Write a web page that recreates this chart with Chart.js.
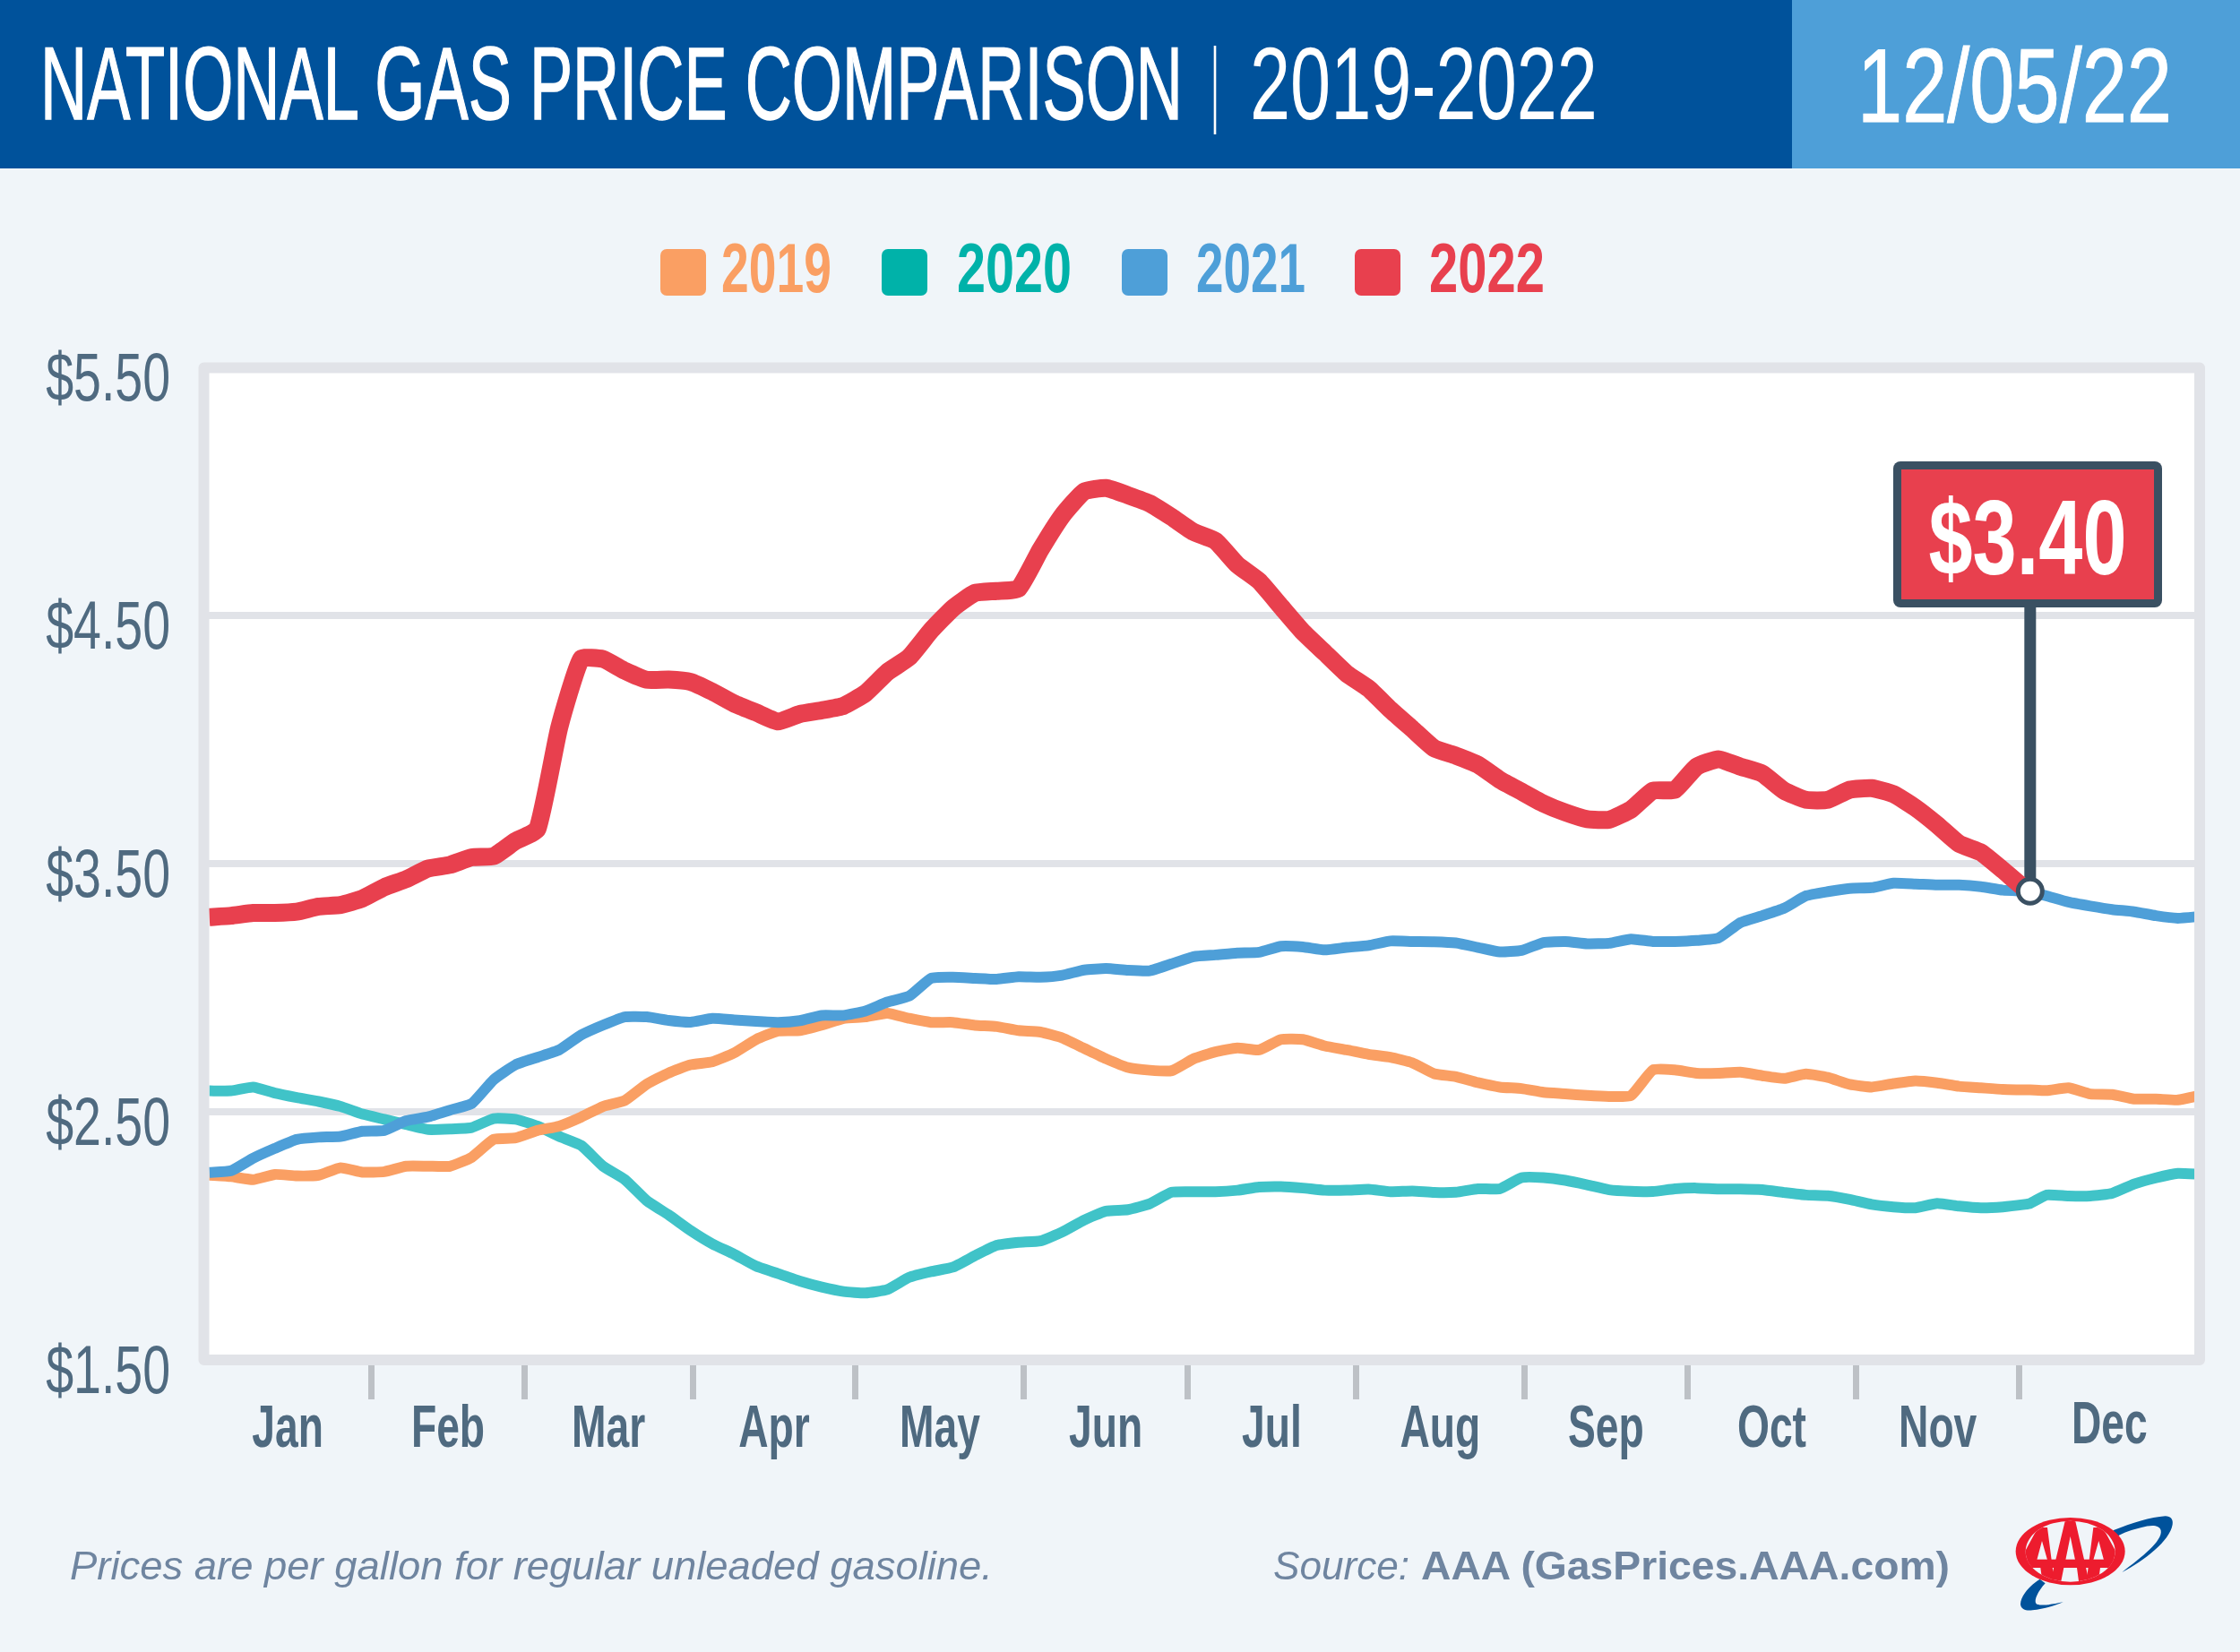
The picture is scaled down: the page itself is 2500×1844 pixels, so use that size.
<!DOCTYPE html>
<html><head><meta charset="utf-8">
<style>
html,body{margin:0;padding:0;background:#f0f5f9;width:2500px;height:1844px;overflow:hidden}
canvas,svg{position:absolute;left:0;top:0}
svg{pointer-events:none}
</style>
<script src="https://cdn.jsdelivr.net/npm/chart.js@4/dist/chart.umd.js"></script>
</head><body>
<canvas id="c" width="2500" height="1844"></canvas>
<svg id="o" width="2500" height="1844" xmlns="http://www.w3.org/2000/svg"></svg>
<script>
const days = [1,5,9,13,17,21,25,29,33,37,41,45,49,53,57,61,65,69,73,77,81,85,
 89,93,97,101,105,109,113,117,121,125,129,133,137,141,145,149,153,157,161,165,169,
 173,177,181,185,189,193,197,201,205,209,213,217,221,225,229,233,237,241,245,249,253,
 257,261,265,269,273,277,281,285,289,293,297,301,305,309,313,317,321,325,329,333,
 334,337,341,345,349,353,357,361,365];
const y2019 = [2.245,2.239,2.227,2.248,2.242,2.245,2.275,2.257,2.259,2.281,2.281,2.281,2.317,2.389,2.395,2.425,2.443,2.479,2.522,2.546,2.612,2.657,
 2.690,2.702,2.738,2.792,2.826,2.828,2.850,2.877,2.883,2.898,2.877,2.861,2.861,2.849,2.844,2.828,2.822,2.798,2.756,2.714,2.679,
 2.668,2.666,2.714,2.742,2.758,2.750,2.792,2.792,2.766,2.750,2.732,2.720,2.698,2.654,2.642,2.618,2.600,2.594,2.579,2.573,2.566,
 2.562,2.566,2.669,2.669,2.656,2.656,2.660,2.646,2.635,2.653,2.639,2.611,2.600,2.614,2.625,2.617,2.603,2.597,2.591,2.589,
 2.589,2.586,2.597,2.572,2.570,2.552,2.552,2.548,2.566];
const y2020 = [2.585,2.585,2.600,2.576,2.558,2.542,2.522,2.491,2.470,2.449,2.429,2.431,2.437,2.473,2.470,2.443,2.401,2.365,2.281,2.227,2.142,2.085,
 2.022,1.968,1.926,1.878,1.848,1.818,1.794,1.776,1.770,1.784,1.833,1.856,1.874,1.920,1.962,1.974,1.980,2.016,2.064,2.100,2.106,
 2.130,2.176,2.178,2.178,2.184,2.197,2.199,2.193,2.184,2.184,2.188,2.178,2.181,2.175,2.176,2.190,2.190,2.235,2.235,2.224,2.206,
 2.186,2.180,2.179,2.190,2.193,2.189,2.189,2.186,2.175,2.165,2.162,2.147,2.127,2.117,2.113,2.131,2.120,2.113,2.117,2.127,
 2.131,2.165,2.161,2.161,2.172,2.209,2.234,2.252,2.248];
const y2021 = [2.256,2.263,2.313,2.353,2.389,2.398,2.401,2.422,2.425,2.464,2.480,2.507,2.534,2.630,2.690,2.720,2.750,2.810,2.850,2.883,2.883,2.869,
 2.862,2.877,2.871,2.865,2.861,2.868,2.889,2.889,2.907,2.943,2.967,3.039,3.043,3.039,3.035,3.045,3.043,3.051,3.072,3.078,3.071,
 3.069,3.097,3.126,3.133,3.141,3.144,3.168,3.165,3.153,3.163,3.171,3.189,3.187,3.186,3.181,3.163,3.145,3.151,3.183,3.187,3.178,
 3.180,3.197,3.187,3.187,3.191,3.201,3.263,3.291,3.321,3.371,3.388,3.401,3.404,3.422,3.419,3.415,3.415,3.408,3.394,3.390,
 3.388,3.371,3.346,3.330,3.316,3.307,3.291,3.281,3.288];
const y2022 = [3.285,3.291,3.302,3.302,3.307,3.328,3.334,3.360,3.406,3.438,3.481,3.496,3.526,3.531,3.592,3.640,4.050,4.326,4.326,4.278,4.242,4.243,
 4.234,4.194,4.146,4.110,4.074,4.104,4.119,4.137,4.188,4.273,4.333,4.441,4.531,4.592,4.600,4.610,4.766,4.904,5.001,5.015,4.986,
 4.953,4.898,4.838,4.802,4.706,4.640,4.537,4.435,4.351,4.267,4.207,4.122,4.044,3.966,3.936,3.900,3.839,3.791,3.743,3.707,3.680,
 3.678,3.719,3.795,3.798,3.892,3.922,3.892,3.864,3.795,3.758,3.758,3.799,3.805,3.781,3.726,3.657,3.581,3.546,3.475,3.400,
 3.390];
const yTicks = [1.5,2.5,3.5,4.5,5.5];
const monthNames = ['Jan','Feb','Mar','Apr','May','Jun','Jul','Aug','Sep','Oct','Nov','Dec'];
const monthEdges = [0,30.7,58.6,89.4,119.2,150,179.9,210.7,241.5,271.3,302.2,332,365];
const seriesNames = ['2019','2020','2021','2022'];
const lineColors = ['#fa9f63','#40c3c8','#4e9fd8','#e8404e'];
const legendColors = ['#fa9f63','#00b2a9','#4e9fd8','#e8404e'];
const calloutText = '$3.40';

const NARROW = '"Liberation Sans Narrow","Liberation Sans",sans-serif';
const pts = v => v.map((y,i)=>({x:days[i],y}));
const mids = monthNames.map((m,i)=>(monthEdges[i]+monthEdges[i+1])/2);

function squeeze(scale,k,fn){
  if(scale.__sq) return; scale.__sq = true;
  const ctx = scale.ctx;
  const gi = scale.getLabelItems.bind(scale);
  const dl = scale.drawLabels.bind(scale);
  scale._computeLabelArea = () => undefined;
  scale.getLabelItems = a => gi(a).map(it=>{
    const [x,y] = it.options.translation;
    const [nx,ny] = fn(x,y,it);
    return {...it, options:{...it.options, translation:[nx/k,ny]}};
  });
  scale.drawLabels = a => { ctx.save(); ctx.scale(k,1); dl(a); ctx.restore(); };
}

const paintPlot = {
  id:'paintPlot',
  beforeDraw(chart){
    const {ctx,chartArea:a} = chart;
    ctx.save(); ctx.fillStyle='#ffffff';
    ctx.fillRect(a.left,a.top,a.right-a.left,a.bottom-a.top); ctx.restore();
    squeeze(chart.scales.y,0.73,(x,y)=>[190,y+16]);
    squeeze(chart.scales.x,0.70,(x,y,it)=>[x,y+(it.label==='Dec'?-12:-8)]);
  },
  beforeDatasetsDraw(chart){
    const {ctx} = chart;
    const p = chart.getDatasetMeta(3).data.at(-1);
    ctx.save(); ctx.fillStyle='#3a5062';
    ctx.fillRect(p.x-6.5,670,13,p.y-670); ctx.restore();
  },
  afterDatasetsDraw(chart){
    const {ctx,chartArea:a} = chart;
    ctx.save();
    ctx.strokeStyle='#e1e3e8'; ctx.lineWidth=12; ctx.lineJoin='round';
    ctx.strokeRect(a.left,a.top,a.right-a.left,a.bottom-a.top);
    // callout flag
    ctx.beginPath(); ctx.roundRect(2113,515,300,163,8); ctx.fillStyle='#3a5062'; ctx.fill();
    ctx.fillStyle='#e8404e'; ctx.fillRect(2122,524,282,145);
    ctx.fillStyle='#ffffff'; ctx.font='bold 118px '+NARROW; ctx.textBaseline='alphabetic'; ctx.textAlign='left';
    const w = ctx.measureText(calloutText).width, tw = 221, k = tw/w;
    ctx.translate(2152.5,641); ctx.scale(k,1); ctx.fillText(calloutText,0,0);
    ctx.restore();
  }
};

const lastRed = y2022.length-1;
const chart = new Chart(document.getElementById('c'),{
  type:'line',
  data:{datasets:[
    {label:seriesNames[0],data:pts(y2019),borderColor:lineColors[0],borderWidth:12,order:3},
    {label:seriesNames[1],data:pts(y2020),borderColor:lineColors[1],borderWidth:12,order:4},
    {label:seriesNames[2],data:pts(y2021),borderColor:lineColors[2],borderWidth:12,order:2},
    {label:seriesNames[3],data:pts(y2022),borderColor:lineColors[3],borderWidth:20,order:1,
      pointRadius:c=>c.dataIndex===lastRed?13.5:0,
      pointBackgroundColor:'#ffffff',pointBorderColor:'#3a5062',pointBorderWidth:5}
  ]},
  options:{
    responsive:false,animation:false,devicePixelRatio:1,
    layout:{padding:{top:410.5,right:45,left:0,bottom:0}},
    elements:{point:{radius:0,hoverRadius:0},line:{tension:0.15,borderCapStyle:'butt',borderJoinStyle:'round',fill:false}},
    plugins:{legend:{display:false},title:{display:false},tooltip:{enabled:false}},
    events:[],
    scales:{
      x:{type:'linear',min:0,max:365,
        afterBuildTicks:s=>{s.ticks=[...monthEdges.slice(1,-1).map(value=>({value})),...mids.map(value=>({value}))].sort((a,b)=>a.value-b.value);},
        afterFit:s=>{s.height=326;},
        border:{display:false},
        grid:{drawOnChartArea:false,drawTicks:true,tickLength:44,lineWidth:7,tickWidth:7,
          tickColor:c=>mids.includes(c.tick&&c.tick.value)?'rgba(0,0,0,0)':'#bdc1c6',color:'rgba(0,0,0,0)'},
        ticks:{autoSkip:false,maxRotation:0,minRotation:0,padding:3,color:'#4f6a80',
          font:{family:NARROW,size:66,weight:'bold'},
          callback:v=>{const i=mids.indexOf(v);return i>=0?monthNames[i]:'';}}
      },
      y:{type:'linear',min:1.5,max:5.5,
        afterBuildTicks:s=>{s.ticks=yTicks.map(value=>({value}));},
        afterFit:s=>{s.width=227.5;},
        border:{display:false},
        grid:{color:'#e1e3e8',lineWidth:8,drawTicks:false},
        ticks:{autoSkip:false,padding:10,color:'#4f6a80',
          font:{family:NARROW,size:76,weight:'normal'},
          callback:v=>'$'+v.toFixed(2)}
      }
    }
  },
  plugins:[paintPlot]
});

// page furniture: header, legend, footer, logo
const NS='http://www.w3.org/2000/svg', svg=document.getElementById('o');
function el(t,a,p){const e=document.createElementNS(NS,t);for(const k in a)e.setAttribute(k,a[k]);(p||svg).appendChild(e);return e;}
function txt(s,x,y,w,a){const e=el('text',Object.assign({x,y,textLength:w,lengthAdjust:'spacingAndGlyphs','font-family':NARROW},a));e.textContent=s;return e;}
el('rect',{x:0,y:0,width:2000,height:188,fill:'#00529b'});
el('rect',{x:2000,y:0,width:500,height:188,fill:'#4e9fd8'});
txt('NATIONAL GAS PRICE COMPARISON',45,133,1275,{'font-size':115,fill:'#fff',stroke:'#fff','stroke-width':1.5});
txt('|',1352,128,8,{'font-size':105,fill:'#fff'});
txt('2019-2022',1395,133,388,{'font-size':115,fill:'#fff'});
txt('12/05/22',2073,136,351,{'font-size':116,fill:'#fff','stroke':'#fff','stroke-width':1});
const lg=[[737,805,123],[984,1068,128],[1252,1335,122],[1512,1595,129]];
seriesNames.forEach((n,i)=>{
  el('rect',{x:lg[i][0],y:278,width:51,height:52,rx:7,fill:legendColors[i]});
  txt(n,lg[i][1],326,lg[i][2],{'font-size':77,'font-weight':'bold',fill:legendColors[i]});
});
const F='"Liberation Sans",Arial,sans-serif';
txt('Prices are per gallon for regular unleaded gasoline.',78,1763,1030,{'font-family':F,'font-size':45,'font-style':'italic',fill:'#6f85a0'});
txt('Source:',1421,1763,152,{'font-family':F,'font-size':45,'font-style':'italic',fill:'#6f85a0'});
txt('AAA (GasPrices.AAA.com)',1586,1763,590,{'font-family':F,'font-size':45,'font-weight':'bold',fill:'#6f85a0'});
// logo, drawn in a 3x local grid
const g=el('g',{transform:'translate(2230 1670) scale(0.33333)'});
const defs=el('defs',{},g);
const cp=el('clipPath',{id:'inner'},defs);
el('ellipse',{cx:242,cy:185,rx:150,ry:102},cp);
el('path',{d:'M385 115 C450 90 510 70 560 67 C578 67 587 78 584 95 C575 150 490 215 415 255 C480 205 552 150 545 115 C540 95 510 97 480 105 C450 112 420 122 398 135 Z',fill:'#00529b'},g);
el('path',{d:'M140 278 C105 300 75 335 75 362 C77 380 95 385 115 382 C150 378 190 368 218 355 C185 362 150 368 130 362 C118 355 128 325 158 292 Z',fill:'#00529b'},g);
el('ellipse',{cx:242,cy:185,rx:183,ry:113,fill:'#ed1c2e'},g);
el('ellipse',{cx:242,cy:185,rx:150,ry:102,fill:'#f0f5f9'},g);
const aaa=el('g',{'clip-path':'url(#inner)',fill:'#ed1c2e','fill-rule':'evenodd'},g);
el('rect',{x:95,y:212,width:294,height:28},aaa);
el('path',{d:'M135 105 L165 105 L190 300 L150 300 L142 240 L105 240 L85 270 L60 240 L120 130 Z M147 150 L130 214 L165 214 Z'},aaa);
el('path',{d:'M225 80 L258 80 L308 300 L272 300 L264 240 L220 240 L208 300 L172 300 Z M242 135 L226 214 L258 214 Z'},aaa);
el('path',{d:'M349 105 L319 105 L294 300 L334 300 L342 240 L379 240 L399 270 L424 240 L364 130 Z M337 150 L354 214 L319 214 Z'},aaa);
</script>
</body></html>
